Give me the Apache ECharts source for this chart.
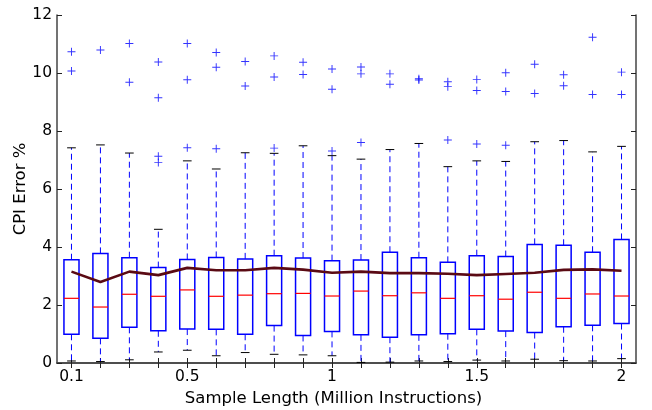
<!DOCTYPE html>
<html>
<head>
<meta charset="utf-8">
<script src="https://cdn.jsdelivr.net/npm/echarts@6/dist/echarts.min.js"></script>
<style>html,body{margin:0;padding:0;background:#fff}#c{width:652px;height:410px}</style>
</head>
<body>
<div id="c"></div>
<script>
const xs = [0.1,0.2,0.3,0.4,0.5,0.6,0.7,0.8,0.9,1.0,1.1,1.2,1.3,1.4,1.5,1.6,1.7,1.8,1.9,2.0];
const whiskerHigh = [7.42,7.52,7.24,4.61,6.97,6.69,7.25,7.23,7.49,7.15,7.03,7.36,7.57,6.77,6.97,6.95,7.63,7.67,7.28,7.47];
const q3s = [3.56,3.78,3.63,3.29,3.57,3.64,3.59,3.70,3.62,3.53,3.55,3.82,3.63,3.47,3.70,3.67,4.09,4.06,3.82,4.26];
const medians = [2.23,1.93,2.37,2.30,2.52,2.30,2.34,2.39,2.40,2.31,2.48,2.32,2.42,2.23,2.32,2.20,2.44,2.23,2.38,2.31];
const q1s = [0.99,0.85,1.23,1.11,1.17,1.16,0.99,1.29,0.95,1.09,0.97,0.89,0.97,1.01,1.16,1.10,1.05,1.25,1.30,1.36];
const whiskerLow = [0.07,0.05,0.11,0.38,0.44,0.25,0.36,0.30,0.28,0.25,0.02,0.03,0.07,0.05,0.10,0.07,0.13,0.08,0.07,0.15];
const means = [3.15,2.79,3.15,3.03,3.28,3.20,3.20,3.28,3.22,3.11,3.15,3.10,3.10,3.08,3.03,3.07,3.11,3.21,3.23,3.18];
const outliers = [
  [10.73,10.07],[10.79],[11.02,9.68],[10.38,9.15,7.13,6.91],[11.02,9.77,7.42],
  [10.71,10.20,7.39],[10.40,9.55],[10.59,9.86,7.41],[10.37,9.95],[10.14,9.44,7.31],
  [10.21,9.97,7.60],[9.97,9.61],[9.80,9.76],[9.70,9.53,7.69],[9.78,9.40,7.55],
  [10.01,9.36,7.51],[10.30,9.29],[9.94,9.56],[11.23,9.26],[10.03,9.26]
];
const xTickLabels = [0.1,0.5,1,1.5,2];

const boxData = xs.map((x,i)=>[x, whiskerLow[i], q1s[i], medians[i], q3s[i], whiskerHigh[i]]);
const outlierData = [];
xs.forEach((x,i)=>outliers[i].forEach(v=>outlierData.push([x,v])));
const meanData = xs.map((x,i)=>[x, means[i]]);

const FONT = 'DejaVu Sans';
const frame = {lineStyle:{color:'#444',width:1.5}};
const xCommon = {
  type:'value', min:0.05, max:2.05,
  axisLine:{show:true, ...frame},
  splitLine:{show:false},
  axisTick:{show:true, inside:true, length:5, lineStyle:{color:'#222',width:1}, customValues: xs}
};
const yCommon = {
  type:'value', min:0, max:12, interval:2,
  axisLine:{show:true, ...frame},
  splitLine:{show:false},
  axisTick:{show:true, inside:true, length:5, lineStyle:{color:'#222',width:1}}
};

const chart = echarts.init(document.getElementById('c'), null, {renderer:'canvas'});
chart.setOption({
  animation:false,
  grid:{left:57, right:16, top:15, bottom:47, containLabel:false, outerBoundsMode:'none'},
  xAxis:[
    {...xCommon, position:'bottom',
     name:'Sample Length (Million Instructions)', nameLocation:'middle', nameGap:27, nameMoveOverlap:false,
     nameTextStyle:{fontFamily:FONT, fontSize:16.5, color:'#000', padding:[0,26,0,0]},
     axisLabel:{show:true, customValues:xTickLabels, margin:6, fontFamily:FONT, fontSize:15.5, color:'#000',
       formatter:v=>String(+v.toFixed(2))}},
    {...xCommon, position:'top', axisLabel:{show:false}}
  ],
  yAxis:[
    {...yCommon, position:'left',
     name:'CPI Error %', nameLocation:'middle', nameGap:28, nameRotate:90, nameMoveOverlap:false,
     nameTextStyle:{fontFamily:FONT, fontSize:16.5, color:'#000'},
     axisLabel:{show:true, margin:5, fontFamily:FONT, fontSize:15.5, color:'#000'}},
    {...yCommon, position:'right', axisLabel:{show:false}}
  ],
  series:[
    {
      type:'custom', xAxisIndex:0, yAxisIndex:0, z:2,
      data: boxData,
      encode:{x:0, y:[1,2,3,4,5]},
      renderItem:function(params, api){
        const x = api.value(0);
        const pLow = api.coord([x, api.value(1)]);
        const pQ1 = api.coord([x, api.value(2)]);
        const pMed = api.coord([x, api.value(3)]);
        const pQ3 = api.coord([x, api.value(4)]);
        const pHigh = api.coord([x, api.value(5)]);
        const step = api.size([0.1, 0])[0];
        const hw = step*0.26;
        const cw = step*0.15;
        const cx = pQ1[0];
        const dash = {stroke:'#0000ff', lineWidth:1, lineDash:[6,4]};
        return {type:'group', children:[
          {type:'line', shape:{x1:cx,y1:pQ3[1],x2:cx,y2:pHigh[1]}, style:dash},
          {type:'line', shape:{x1:cx,y1:pQ1[1],x2:cx,y2:pLow[1]}, style:dash},
          {type:'line', shape:{x1:cx-cw,y1:pHigh[1],x2:cx+cw,y2:pHigh[1]}, style:{stroke:'#000',lineWidth:1}},
          {type:'line', shape:{x1:cx-cw,y1:pLow[1],x2:cx+cw,y2:pLow[1]}, style:{stroke:'#000',lineWidth:1}},
          {type:'rect', shape:{x:cx-hw, y:pQ3[1], width:hw*2, height:pQ1[1]-pQ3[1]}, style:{fill:null, stroke:'#0000ff', lineWidth:1.5}},
          {type:'line', shape:{x1:cx-hw,y1:pMed[1],x2:cx+hw,y2:pMed[1]}, style:{stroke:'#ff0000',lineWidth:1.2}}
        ]};
      }
    },
    {
      type:'scatter', xAxisIndex:0, yAxisIndex:0, z:3,
      data: outlierData,
      symbol:'path://M4.4,0H5.6V4.4H10V5.6H5.6V10H4.4V5.6H0V4.4H4.4Z',
      symbolSize:8,
      itemStyle:{color:'#0000ff'}
    },
    {
      type:'line', xAxisIndex:0, yAxisIndex:0, z:4,
      data: meanData,
      symbol:'none',
      lineStyle:{color:'#5a0a14', width:2.6}
    }
  ]
});
</script>
</body>
</html>
